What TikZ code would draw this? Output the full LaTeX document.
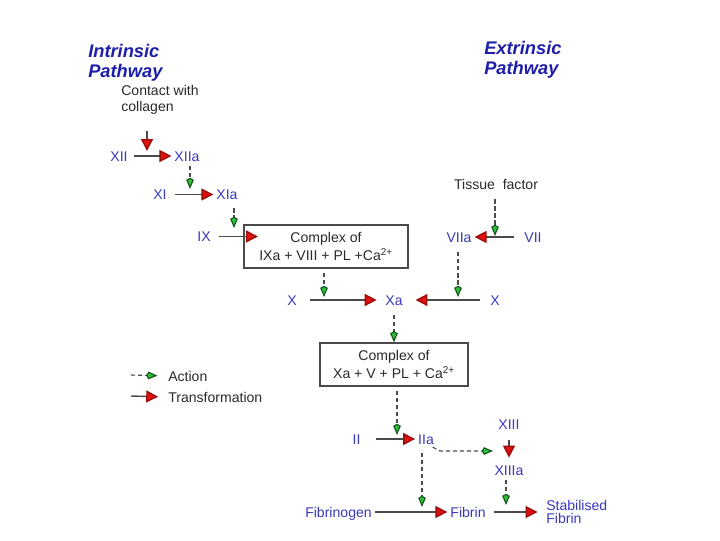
\documentclass[tikz,border=0pt]{standalone}
\usepackage{fontspec}
\setmainfont{Liberation Sans}
\usetikzlibrary{arrows.meta, positioning}
\definecolor{factblue}{HTML}{3A3ABF}
\definecolor{pathblue}{HTML}{1E1EAA}
\definecolor{tipred}{HTML}{E01010}
\definecolor{tipgreen}{HTML}{2DBE3C}
\definecolor{lineink}{HTML}{4A4A4A}
\definecolor{noteink}{HTML}{2A2A2A}

\begin{document}
\begin{tikzpicture}[x=0.025cm, y=-0.025cm,
        factlabel/.style={font=\fontsize{10}{12}\selectfont, text=factblue, inner sep=2pt, text height=7.2pt, text depth=0pt},
        pathtitle/.style={font=\fontsize{13}{14.5}\selectfont\bfseries\itshape, text=pathblue, align=left, anchor=north west, inner sep=0pt},
        note/.style={font=\fontsize{10}{11.3}\selectfont, text=noteink, align=left, inner sep=0pt},
        complexbox/.style={draw=lineink, fill=white, line width=0.8pt, align=center, font=\fontsize{10}{13}\selectfont, text=noteink, minimum height=1.075cm, inner sep=0pt},
        transarrow/.style={lineink, line width=1pt, -{Triangle[length=8.5pt,width=8.5pt,fill=tipred,color=tipred!70!black]}},
        actarrow/.style={lineink, line width=0.8pt, dash pattern=on 3pt off 2pt, -{Kite[length=8pt,width=5.5pt,inset=1.5pt,fill=tipgreen,color=tipgreen!45!black]}}
    ]
        \fill[white] (0,0) rectangle (720,540);
        \useasboundingbox (0,0) rectangle (720,540);

        % headings
        \node (intr) [pathtitle] at (88,43.5) {Intrinsic\\Pathway};
        \node (extr) [pathtitle] at (484,40.5) {Extrinsic\\Pathway};
        \node (contact) [note, anchor=north west] at (121,85) {Contact with\\collagen};

        % intrinsic side
        \node (XII) [factlabel] at (119,156) {XII};
        \node (XIIa) [factlabel] at (187,156) {XIIa};
        \node (XI) [factlabel] at (160,194.5) {XI};
        \node (XIa) [factlabel] at (227,194.5) {XIa};
        \node (IX) [factlabel] at (204,236.5) {IX};
        \node (cxIX) [complexbox, minimum width=4.1cm] at (326,246.5) {Complex of\\IXa + VIII + PL +Ca\textsuperscript{2+}};

        % extrinsic side
        \node (tissue) [note] at (496,184) {Tissue~ factor};
        \node (VIIa) [factlabel] at (459,237) {VIIa};
        \node (VII) [factlabel] at (533,237) {VII};

        % common pathway
        \node (Xl) [factlabel] at (292,300) {X};
        \node (Xa) [factlabel] at (394,300) {Xa};
        \node (Xr) [factlabel] at (495,300) {X};
        \node (cxXa) [complexbox, minimum width=3.7cm] at (394,364.5) {Complex of\\Xa + V + PL + Ca\textsuperscript{2+}};
        \node (II) [factlabel] at (356.5,439) {II};
        \node (IIa) [factlabel] at (426,439) {IIa};
        \node (XIII) [factlabel] at (509,424.5) {XIII};
        \node (XIIIa) [factlabel] at (509,470) {XIIIa};
        \node (fbg) [factlabel] at (338.5,512) {Fibrinogen};
        \node (fib) [factlabel] at (468,512) {Fibrin};
        \node (stab) [note, text=factblue, anchor=north west, font=\fontsize{10}{9}\selectfont] at (546,500.5) {Stabilised\\Fibrin};

        % legend
        \node (lgact) [note, anchor=west] at (168,376) {Action};
        \node (lgtrans) [note, anchor=west] at (168,397) {Transformation};

        % arrow ends on the lines
        \coordinate (colTop) at (147,131);
        \coordinate (hitXII) at (147,151);
        \coordinate (hitXI) at (190,189);
        \coordinate (hitIX) at (234,228);
        \coordinate (hitCx) at (258,236.5);
        \coordinate (hitXl) at (324,297);
        \coordinate (hitVII) at (495,236);
        \coordinate (hitXr) at (458,297);
        \coordinate (hitII) at (397,435);
        \coordinate (kinkIIa) at (440,451);
        \coordinate (hitXIII) at (493,451);
        \coordinate (hitFib) at (506,505);
        \coordinate (hitFbg) at (422,507);
        \coordinate (lgA) at (131,375);
        \coordinate (lgT) at (131,396);

        % transformations
        \draw [transarrow] (colTop) -- (hitXII);
        \draw [transarrow, shorten <=2pt] (XII) -- (XIIa);
        \draw [transarrow, shorten <=4pt] (XI) -- (XIa);
        \draw [transarrow, shorten <=4pt] (IX) -- (hitCx);
        \draw [transarrow, shorten <=5pt] (VII) -- (VIIa);
        \draw [transarrow, shorten <=7pt, shorten >=4pt] (Xl) -- (Xa);
        \draw [transarrow, shorten <=5pt, shorten >=7pt] (Xr) -- (Xa);
        \draw [transarrow, shorten <=9pt] (II) -- (IIa);
        \draw [transarrow, shorten <=5pt, shorten >=3pt] (XIII) -- (XIIIa);
        \draw [transarrow] (fbg) -- (fib);
        \draw [transarrow, shorten <=4pt, shorten >=6pt] (fib) -- (stab.west |- fib);

        % actions
        \draw [actarrow, shorten <=1pt] (XIIa.south -| hitXI) -- (hitXI);
        \draw [actarrow, shorten <=4pt] (XIa.south -| hitIX) -- (hitIX);
        \draw [actarrow, shorten <=3pt] (cxIX.south -| hitXl) -- (hitXl);
        \draw [actarrow, shorten <=7pt] (tissue.south -| hitVII) -- (hitVII);
        \draw [actarrow, shorten <=5pt] (VIIa.south -| hitXr) -- (hitXr);
        \draw [actarrow, shorten <=5pt] (Xa) -- (cxXa);
        \draw [actarrow, shorten <=3pt] (cxXa.south -| hitII) -- (hitII);
        \draw [actarrow] ([xshift=-3pt]IIa.south east) -- (kinkIIa) -- (hitXIII);
        \draw [actarrow, shorten <=1pt] (XIIIa.south -| hitFib) -- (hitFib);
        \draw [actarrow, shorten <=4pt] (IIa.south -| hitFbg) -- (hitFbg);

        % legend arrows
        \draw [actarrow, shorten >=7.5pt] (lgA) -- (lgact.west);
        \draw [transarrow, shorten >=7pt] (lgT) -- (lgtrans.west);
    \end{tikzpicture}
\end{document}
